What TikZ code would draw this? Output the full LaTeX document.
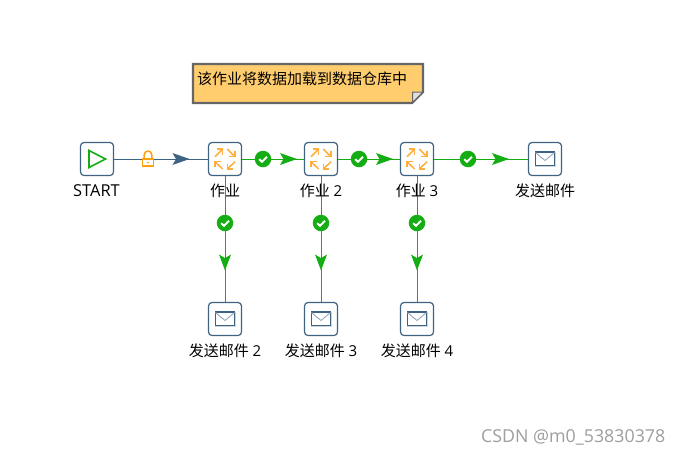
\documentclass[tikz,border=0pt]{standalone}
\usepackage{fontspec}
\setmainfont{Open Sans}
\newfontfamily\cjk{Noto Sans CJK SC}
\usetikzlibrary{calc}
\definecolor{nodeblue}{HTML}{3F6483}
\definecolor{okgreen}{HTML}{14AD14}
\definecolor{lockorange}{HTML}{FFA010}
\definecolor{joborange}{HTML}{FFAE3C}
\definecolor{notefill}{HTML}{FFCC6E}
\definecolor{notedraw}{HTML}{666666}
\definecolor{foldfill}{HTML}{DEDEDE}
\definecolor{mailfill}{HTML}{C9D6E3}
\tikzset{
  x=1pt,y=-1pt,
  comp/.style={draw=nodeblue,fill=white,line width=1.2pt,rounded corners=3.5pt,minimum size=33pt,inner sep=0pt},
  lab/.style={font=\fontsize{15}{15}\selectfont,text=black,inner sep=0pt,anchor=center},
  tick/.style={circle,fill=okgreen,minimum size=16.5pt,inner sep=0pt},
  okline/.style={draw=okgreen,line width=1pt},
  blueline/.style={draw=nodeblue,line width=1pt},
}
\newcommand{\chk}[1]{\draw[white,line width=2pt] ($(#1)+(-3.8,0.2)$) -- ($(#1)+(-1,2.8)$) -- ($(#1)+(4,-2.2)$);}
\newcommand{\rarr}[3]{\fill[#3] (#1+17,#2) -- (#1,#2-6) -- (#1+3.5,#2) -- (#1,#2+6) -- cycle;}
\newcommand{\darr}[3]{\fill[#3] (#1,#2+16) -- (#1-6,#2) -- (#1,#2+3.5) -- (#1+6,#2) -- cycle;}
\newcommand{\jobicon}[1]{%
  \begin{scope}[shift={(#1)},joborange,line width=1.5pt]
    \draw (-10,-2.3) -- (-2.3,-10);
    \draw (-8,-10) -- (-2.3,-10) -- (-2.3,-4.3);
    \draw (2.3,-10) -- (10,-2.3);
    \draw (10,-8) -- (10,-2.3) -- (4.3,-2.3);
    \draw (10,2.7) -- (2.3,10);
    \draw (2.3,4.5) -- (2.3,10) -- (8,10);
    \draw (-2.3,10) -- (-10,2.7);
    \draw (-10,8.4) -- (-10,2.7) -- (-4.3,2.7);
  \end{scope}}
\newcommand{\mailicon}[1]{%
  \begin{scope}[shift={(#1)}]
    \fill[mailfill] (-10.5,-7.5) rectangle (10.5,8);
    \fill[white] (-9,-6.5) rectangle (9,6);
    \draw[nodeblue,line width=1.2pt] (-9.7,-7) rectangle (9.7,6.3);
    \draw[mailfill!60!nodeblue,line width=0.9pt] (-9.5,-6.5) -- (0,1.5) -- (9.5,-6.5);
  \end{scope}}
\begin{document}
\begin{tikzpicture}
\useasboundingbox (0,0) rectangle (680,456);
\fill[white] (0,0) rectangle (680,456);
% note
\path[fill=notefill,draw=notedraw,line width=2.2pt] (193,64) -- (423,64) -- (423,92) -- (412,103) -- (193,103) -- cycle;
\path[fill=foldfill,draw=notedraw,line width=1pt] (423,92) -- (412.5,92) -- (412.5,102.5) -- cycle;
\node[lab,anchor=west] (notetext) at (197,78.5) {\cjk 该作业将数据加载到数据仓库中};
% nodes
\node[comp] (start) at (97,159) {};
\node[comp] (job1) at (225,159) {};
\node[comp] (job2) at (321,159) {};
\node[comp] (job3) at (417,159) {};
\node[comp] (mail1) at (545,159) {};
\node[comp] (mail2) at (225,319) {};
\node[comp] (mail3) at (321,319) {};
\node[comp] (mail4) at (417,319) {};
% connectors
\draw[blueline] (start) -- (job1);
\draw[okline] (job1) -- (job2);
\draw[okline] (job2) -- (job3);
\draw[okline] (job3) -- (mail1);
\draw[okline] (job1) -- (mail2);
\draw[okline] (job2) -- (mail3);
\draw[okline] (job3) -- (mail4);
% icons
\draw[okgreen,line width=1.6pt,fill=white] (89,150.5) -- (105.5,159) -- (89,167.5) -- cycle;
\foreach \p in {job1,job2,job3}{\jobicon{\p}}
\foreach \p in {mail1,mail2,mail3,mail4}{\mailicon{\p}}
% lock
\begin{scope}[shift={(148,159)}]
  \draw[lockorange,line width=1.5pt,fill=white] (-3.8,0) -- (-3.8,-4.2) arc[start angle=180,end angle=360,radius=3.8] -- (3.8,0);
  \draw[lockorange,line width=1.5pt,fill=white] (-5.6,0) rectangle (5.6,7.2);
  \fill[lockorange] (0,3.6) circle (1);
\end{scope}
% arrows
\rarr{172.5}{159}{nodeblue}
\rarr{280}{159}{okgreen}
\rarr{376}{159}{okgreen}
\rarr{492}{159}{okgreen}
\darr{225}{254.5}{okgreen}
\darr{321}{254.5}{okgreen}
\darr{417}{254.5}{okgreen}
% ticks
\foreach \n/\x/\y in {a/263/159,b/359/159,c/468/159,d/225/223,e/321/223,f/417/223}{
  \node[tick] (t\n) at (\x,\y) {};
  \chk{t\n}
}
% labels
\node[lab,font=\fontsize{16.4}{16.4}\selectfont] (l1) at (96.5,191) {START};
\node[lab] (l2) at (225,191) {\cjk 作业};
\node[lab] (l3) at (321,191) {{\cjk 作业} 2};
\node[lab] (l4) at (417,191) {{\cjk 作业} 3};
\node[lab] (l5) at (545,191) {\cjk 发送邮件};
\node[lab] (l6) at (225,351) {{\cjk 发送邮件} 2};
\node[lab] (l7) at (321,351) {{\cjk 发送邮件} 3};
\node[lab] (l8) at (417,351) {{\cjk 发送邮件} 4};
\node[lab,font=\fontsize{17.8}{17.8}\selectfont,text=black!38,anchor=east] (wm) at (665.5,437) {CSDN @m0\_53830378};
\end{tikzpicture}
\end{document}
